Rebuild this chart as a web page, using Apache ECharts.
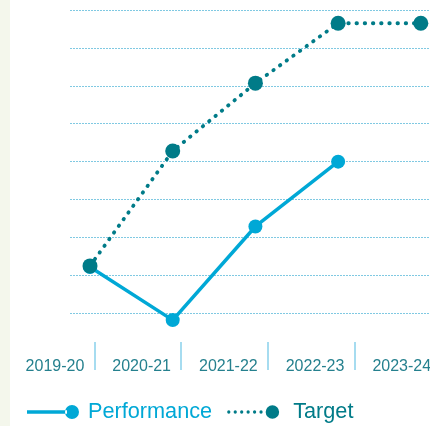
<!DOCTYPE html>
<html>
<head>
<meta charset="utf-8">
<script src="https://cdn.jsdelivr.net/npm/echarts@6/dist/echarts.min.js"></script>
<style>
    html, body { margin: 0; padding: 0; background: #fff; }
    #chart { width: 430px; height: 426px; }
</style>
</head>
<body>
<div id="chart"></div>
<script>
    // categories and values (no y labels, arbitrary units)
    var years = ['2019-20', '2020-21', '2021-22', '2022-23', '2023-24'];
    var performance = [12.2, -1.8, 22.9, 40.0, null];
    var target = [12.5, 42.8, 60.7, 76.5, 76.5];

    var perfColor = '#00a8d6';
    var targetColor = '#007b88';

    // pair each value with its category index
    function toPoints(values) {
        var out = [];
        for (var i = 0; i < values.length; i++) {
            out.push([i, values[i]]);
        }
        return out;
    }

    var chart = echarts.init(document.getElementById('chart'));

    var option = {
        backgroundColor: '#ffffff',
        animation: false,
        textStyle: { fontFamily: 'Liberation Sans, Arial, sans-serif' },
        grid: [
            // plot area
            { left: 70, right: 0, top: 10, height: 341.2, outerBoundsMode: 'none' },
            // category labels row (runs a bit past the right edge)
            { left: 7.6, width: 433.5, top: 10, height: 332, outerBoundsMode: 'none' }
        ],
        xAxis: [
            {
                type: 'value',
                gridIndex: 0,
                min: -0.242,
                max: 4.111,
                show: false
            },
            {
                type: 'category',
                gridIndex: 1,
                data: years,
                boundaryGap: true,
                axisLine: { show: false },
                axisTick: {
                    show: true,
                    length: 28,
                    lineStyle: { color: '#a6dcf0', width: 2 }
                },
                axisLabel: {
                    margin: 17,
                    fontSize: 16,
                    color: '#25808e',
                    padding: [0, 0, 0, 8]
                },
                splitLine: { show: false }
            }
        ],
        yAxis: [
            {
                type: 'value',
                gridIndex: 0,
                min: -10,
                max: 80,
                interval: 10,
                axisLine: { show: false },
                axisTick: { show: false },
                axisLabel: { show: false },
                splitLine: {
                    show: true,
                    showMinLine: false,
                    lineStyle: { color: '#80c9e2', width: 1.2, type: [2, 1] }
                }
            },
            {
                type: 'value',
                gridIndex: 1,
                show: false
            }
        ],
        legend: {
            left: 27,
            top: 401,
            padding: 0,
            itemWidth: 52,
            itemHeight: 15,
            itemGap: 15,
            textStyle: { fontSize: 21.7 },
            data: [
                {
                    name: 'Performance',
                    icon: 'path://M0,5.3 L40,5.3 L40,8.7 L0,8.7 Z M38,7 A7,7 0 1,0 52,7 A7,7 0 1,0 38,7 Z',
                    textStyle: { color: perfColor, padding: [0, 0, 0, 4] }
                },
                {
                    name: 'Target',
                    icon: 'path://M0,7 A1.7,1.7 0 1,0 3.4,7 A1.7,1.7 0 1,0 0,7 Z M6.7,7 A1.7,1.7 0 1,0 10.1,7 A1.7,1.7 0 1,0 6.7,7 Z M13.4,7 A1.7,1.7 0 1,0 16.8,7 A1.7,1.7 0 1,0 13.4,7 Z M20.1,7 A1.7,1.7 0 1,0 23.5,7 A1.7,1.7 0 1,0 20.1,7 Z M26.8,7 A1.7,1.7 0 1,0 30.2,7 A1.7,1.7 0 1,0 26.8,7 Z M33.5,7 A1.7,1.7 0 1,0 36.9,7 A1.7,1.7 0 1,0 33.5,7 Z M40,7 A7,7 0 1,0 54,7 A7,7 0 1,0 40,7 Z',
                    textStyle: { color: targetColor, padding: [0, 0, 0, 9] }
                }
            ]
        },
        graphic: [
            {
                type: 'rect',
                z: 100,
                shape: { x: 0, y: 0, width: 10, height: 426 },
                style: { fill: '#f4f7ec' }
            }
        ],
        series: [
            {
                name: 'Performance',
                type: 'line',
                xAxisIndex: 0,
                yAxisIndex: 0,
                data: toPoints(performance),
                symbol: 'circle',
                symbolSize: 14,
                clip: false,
                color: perfColor,
                lineStyle: { color: perfColor, width: 3.5 },
                itemStyle: { color: perfColor }
            },
            {
                name: 'Target',
                type: 'line',
                xAxisIndex: 0,
                yAxisIndex: 0,
                data: toPoints(target),
                symbol: 'circle',
                symbolSize: 15,
                clip: false,
                color: targetColor,
                lineStyle: { color: targetColor, width: 3.8, type: [0.5, 7.7], cap: 'round' },
                itemStyle: { color: targetColor }
            }
        ]
    };

    chart.setOption(option);
</script>
</body>
</html>
